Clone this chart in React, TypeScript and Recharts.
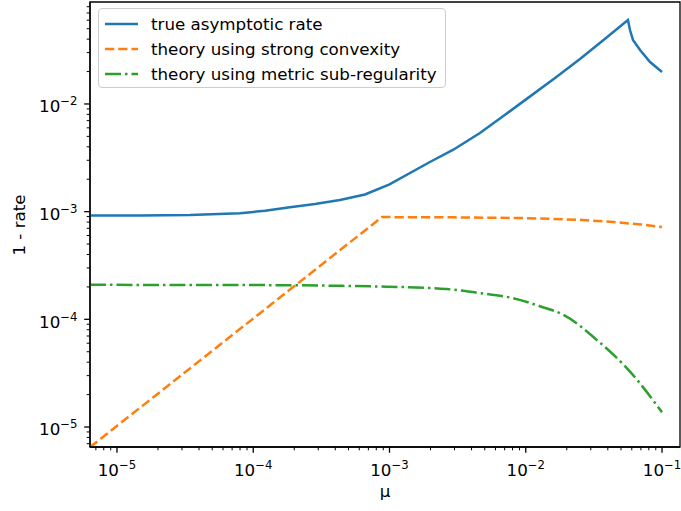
import React from "react";
import { LineChart, Line, XAxis, YAxis, ReferenceArea } from "recharts";

// matplotlib tab10 defaults, figure rendered at ~120 dpi (1pt = 1.667px)
const C = {
  blue: "#1f77b4",
  orange: "#ff7f0e",
  green: "#2ca02c",
  ink: "#000000",
};
const FONT = "'DejaVu Sans', sans-serif";
const FS = 16.7;

const X_DOMAIN = [6.34e-6, 0.1355];
const Y_DOMAIN = [6.52e-6, 0.0885];

// decades that carry a label
const X_MAJOR = [1e-6, 1e-5, 1e-4, 1e-3, 1e-2, 1e-1];
const Y_MAJOR = [1e-6, 1e-5, 1e-4, 1e-3, 1e-2, 1e-1];
const MINOR_MULT = [2, 3, 4, 5, 6, 7, 8, 9];

// true asymptotic rate
const trueMu = [6.34e-6, 1.47e-5, 3.44e-5, 8.0e-5, 1.22e-4, 1.86e-4, 2.84e-4, 4.33e-4, 6.61e-4, 1e-3, 1.98e-3, 2.92e-3, 4.61e-3, 7.05e-3, 1.07e-2, 1.64e-2, 2.5e-2, 3.82e-2, 5.62e-2, 5.82e-2, 6.12e-2, 6.9e-2, 8.17e-2, 0.1];
const trueRate = [9.2e-4, 9.22e-4, 9.32e-4, 9.66e-4, 1.02e-3, 1.1e-3, 1.18e-3, 1.284e-3, 1.445e-3, 1.79e-3, 2.89e-3, 3.74e-3, 5.38e-3, 7.94e-3, 1.17e-2, 1.74e-2, 2.62e-2, 4.04e-2, 6.03e-2, 4.86e-2, 3.93e-2, 3.17e-2, 2.45e-2, 1.98e-2];

// theory using strong convexity
const convMu = [6.34e-6, 8.8e-4, 3e-3, 1e-2, 2.5e-2, 4.4e-2, 7e-2, 0.1];
const convRate = [6.5e-6, 8.9e-4, 8.85e-4, 8.7e-4, 8.4e-4, 8.0e-4, 7.6e-4, 7.2e-4];

// theory using metric sub-regularity
const msrMu = [6.34e-6, 1e-4, 4e-4, 9.5e-4, 2.63e-3, 4.5e-3, 8.1e-3, 1.3e-2, 1.89e-2, 3.32e-2, 5.82e-2, 0.1];
const msrRate = [2.09e-4, 2.08e-4, 2.05e-4, 2.01e-4, 1.91e-4, 1.76e-4, 1.57e-4, 1.31e-4, 1.1e-4, 6.44e-5, 3.27e-5, 1.37e-5];

const zip = (xs: number[], ys: number[]) => xs.map((x, i) => ({ x, y: ys[i] }));

const SERIES = [
  { name: "true asymptotic rate", color: C.blue, dash: undefined as string | undefined, curve: "linear", data: zip(trueMu, trueRate) },
  { name: "theory using strong convexity", color: C.orange, dash: "9.25 4", curve: "linear", data: zip(convMu, convRate) },
  { name: "theory using metric sub-regularity", color: C.green, dash: "16 4 2.5 4", curve: "monotone", data: zip(msrMu, msrRate) },
];

const withMinors = (majors: number[], [lo, hi]: number[]) =>
  majors
    .flatMap((m) => [m, ...MINOR_MULT.map((k) => m * k)])
    .filter((v) => v >= lo && v <= hi);

const xTicks = withMinors(X_MAJOR, X_DOMAIN);
const yTicks = withMinors(Y_MAJOR, Y_DOMAIN);

const decade = (v: number) => {
  const e = Math.log10(v);
  return Math.abs(e - Math.round(e)) < 1e-6 ? Math.round(e) : null;
};

const Pow = ({ e }: { e: number }) => (
  <>
    10
    <tspan dy={-7} fontSize={11.7}>
      {"\u2212" + Math.abs(e)}
    </tspan>
  </>
);

function XTick(props: any) {
  const { x, y, payload } = props;
  const e = decade(payload.value);
  return (
    <g>
      <line x1={x} x2={x} y1={y} y2={y + (e !== null ? 5.8 : 3.3)} stroke={C.ink} strokeWidth={e !== null ? 1.3 : 1} />
      {e !== null && (
        <text x={x} y={y + 29} textAnchor="middle" fontSize={FS} fontFamily={FONT} fill={C.ink}>
          <Pow e={e} />
        </text>
      )}
    </g>
  );
}

function YTick(props: any) {
  const { x, y, payload } = props;
  const e = decade(payload.value);
  return (
    <g>
      <line x1={x} x2={x - (e !== null ? 5.8 : 3.3)} y1={y} y2={y} stroke={C.ink} strokeWidth={e !== null ? 1.3 : 1} />
      {e !== null && (
        <text x={x - 12.5} y={y + 8.5} textAnchor="end" fontSize={FS} fontFamily={FONT} fill={C.ink}>
          <Pow e={e} />
        </text>
      )}
    </g>
  );
}

const XLabel = () => (
  <text x={385} y={497} textAnchor="middle" fontSize={FS} fontFamily={FONT} fill={C.ink}>
    μ
  </text>
);

const YLabel = () => (
  <text x={25} y={225} transform="rotate(-90 25 225)" textAnchor="middle" fontSize={FS} fontFamily={FONT} fill={C.ink}>
    1 - rate
  </text>
);

function LegendBox() {
  return (
    <div
      style={{
        position: "absolute",
        left: 98,
        top: 8,
        width: 348,
        height: 80,
        boxSizing: "border-box",
        border: "1px solid #cccccc",
        borderRadius: 4,
        background: "rgba(255,255,255,0.8)",
        fontFamily: FONT,
        fontSize: FS,
        color: C.ink,
      }}
    >
      {SERIES.map((s, i) => (
        <div key={s.name} style={{ position: "absolute", left: 0, top: 2 + i * 25, height: 25, display: "flex", alignItems: "center", whiteSpace: "nowrap" }}>
          <svg width={34} height={10} style={{ marginLeft: 5 }}>
            <line x1={1} x2={34} y1={5} y2={5} stroke={s.color} strokeWidth={2.5} strokeDasharray={s.dash} />
          </svg>
          <span style={{ marginLeft: 13 }}>{s.name}</span>
        </div>
      ))}
    </div>
  );
}

export default function App() {
  return (
    <div style={{ position: "absolute", left: 0, top: 0, width: 681, height: 511, background: "#fff" }}>
      <LineChart width={681} height={511} margin={{ top: 2, right: 1, bottom: 0, left: 0 }}>
        <XAxis
          type="number"
          dataKey="x"
          scale="log"
          domain={X_DOMAIN}
          allowDataOverflow
          ticks={xTicks}
          interval={0}
          tick={<XTick />}
          tickLine={false}
          tickSize={0}
          tickMargin={0}
          height={64}
          axisLine={{ stroke: C.ink, strokeWidth: 1.3 }}
          label={<XLabel />}
        />
        <YAxis
          type="number"
          dataKey="y"
          scale="log"
          domain={Y_DOMAIN}
          allowDataOverflow
          ticks={yTicks}
          interval={0}
          tick={<YTick />}
          tickLine={false}
          tickSize={0}
          tickMargin={0}
          width={90}
          axisLine={{ stroke: C.ink, strokeWidth: 1.3 }}
          label={<YLabel />}
        />
        {SERIES.map((s) => (
          <Line
            key={s.name}
            data={s.data}
            dataKey="y"
            name={s.name}
            type={s.curve as any}
            stroke={s.color}
            strokeWidth={2.5}
            strokeDasharray={s.dash}
            dot={false}
            activeDot={false}
            isAnimationActive={false}
          />
        ))}
        <ReferenceArea
          x1={X_DOMAIN[0]}
          x2={X_DOMAIN[1]}
          y1={Y_DOMAIN[0]}
          y2={Y_DOMAIN[1]}
          fill="none"
          stroke={C.ink}
          strokeWidth={1.3}
          ifOverflow="visible"
        />
      </LineChart>
      <LegendBox />
    </div>
  );
}
